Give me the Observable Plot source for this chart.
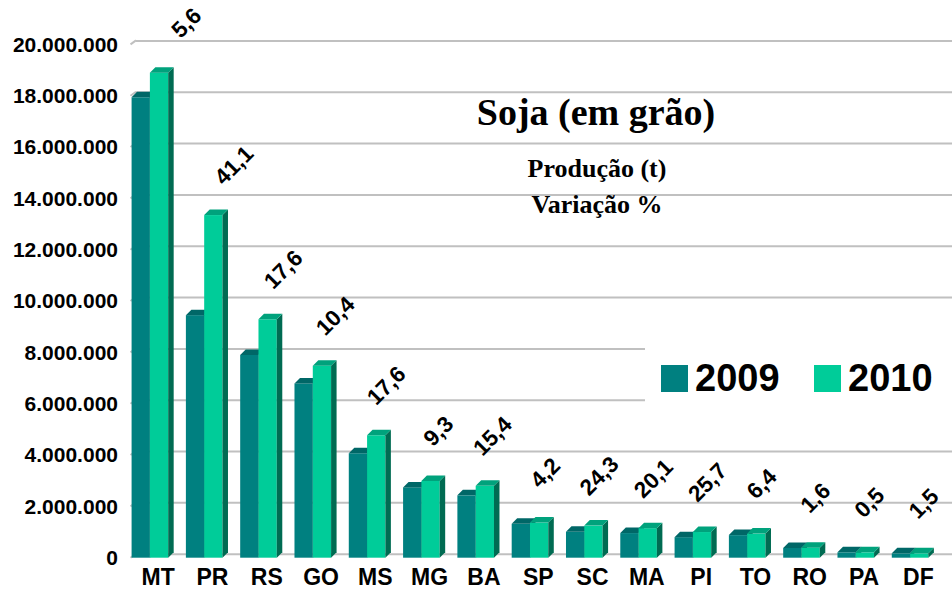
<!DOCTYPE html>
<html><head><meta charset="utf-8">
<script src="https://cdn.jsdelivr.net/npm/d3@7"></script>
<script src="https://cdn.jsdelivr.net/npm/@observablehq/plot@0.6"></script>
<style>
html,body{margin:0;padding:0;background:#fff;}
#chart svg{display:block;}
</style></head><body><div id="chart"></div>
<script>
// ---- data ----
const states = ["MT","PR","RS","GO","MS","MG","BA","SP","SC","MA","PI","TO","RO","PA","DF"];
const prod2009 = [17940000, 9450000, 7900000, 6790000, 4070000, 2740000, 2430000, 1320000, 1010000, 960000, 800000, 880000, 380000, 210000, 170000];
const prod2010 = [18900000, 13350000, 9290000, 7480000, 4770000, 2990000, 2800000, 1370000, 1250000, 1150000, 1000000, 940000, 390000, 210000, 170000];
const variation = [5.6, 41.1, 17.6, 10.4, 17.6, 9.3, 15.4, 4.2, 24.3, 20.1, 25.7, 6.4, 1.6, 0.5, 1.5];
const yTicks = [0, 2000000, 4000000, 6000000, 8000000, 10000000, 12000000, 14000000, 16000000, 18000000, 20000000];
const years = ["2009", "2010"];
const titleText = "Soja (em grão)";
const subtitle1 = "Produção (t)";
const subtitle2 = "Variação %";

// ---- styles ----
const frontColor = {"2009": "#008080", "2010": "#00CC99"};
const topColor = {"2009": "#006767", "2010": "#00A27C"};
const sideColor = {"2009": "#005252", "2010": "#006B52"};
const W0 = 0.02, BW = 0.337;      // bar offset & width inside a category band
const DX = 5.5, DY = 5.5;         // 3D depth of bars (px)
const GX = 5.5, GY = 4;           // depth of back wall (px)
const sans = "'Liberation Sans', Arial, sans-serif";
const serif = "'Liberation Serif', 'Times New Roman', serif";

const rows = states.map((s, i) => ({i, state: s, v2009: prod2009[i], v2010: prod2010[i], pct: variation[i]}));
const bars = rows.flatMap(r => [
  {i: r.i, year: "2009", slot: 0, v: r.v2009},
  {i: r.i, year: "2010", slot: 1, v: r.v2010}
]);

const loc = d3.formatLocale({decimal: ",", thousands: ".", grouping: [3], currency: ["", ""]});
const fmtY = loc.format(",d");
const fmtPct = loc.format(",.1f");

function faces(year) {
  return (index, scales) => {
    const g = d3.create("svg:g");
    for (const b of bars.filter(d => d.year === year)) {
      const x1 = scales.x(b.i + W0 + b.slot * BW), x2 = scales.x(b.i + W0 + (b.slot + 1) * BW);
      const y0 = scales.y(0), y = scales.y(b.v);
      g.append("path").attr("fill", sideColor[year])
        .attr("d", `M${x2},${y}L${x2 + DX},${y - DY}L${x2 + DX},${y0 - DY}L${x2},${y0}Z`);
      g.append("path").attr("fill", topColor[year])
        .attr("d", `M${x1},${y}L${x2},${y}L${x2 + DX},${y - DY}L${x1 + DX},${y - DY}Z`);
    }
    return g.node();
  };
}

function wall(index, scales) {
  const g = d3.create("svg:g");
  for (const t of yTicks) {
    const x = scales.x(0), y = scales.y(t);
    g.append("line").attr("x1", x).attr("y1", y).attr("x2", x + GX).attr("y2", y - GY)
      .attr("stroke", "#c0c0c0").attr("stroke-width", 2);
  }
  return g.node();
}

const frontMark = year => Plot.rect(bars.filter(d => d.year === year), {
  x1: d => d.i + W0 + d.slot * BW,
  x2: d => d.i + W0 + (d.slot + 1) * BW,
  y1: 0, y2: "v", fill: frontColor[year]
});

const chart = Plot.plot({
  width: 952, height: 597,
  marginLeft: 130.5, marginRight: 7, marginTop: 44.4, marginBottom: 39.3,
  style: {fontFamily: sans, color: "black", background: "white", overflow: "visible"},
  x: {domain: [0, states.length]},
  y: {domain: [0, 20000000]},
  marks: [
    Plot.ruleY(yTicks, {stroke: "#c0c0c0", strokeWidth: 2, dy: -GY, insetLeft: GX, insetRight: -7}),
    wall,
    frontMark("2009"),
    faces("2009"),
    frontMark("2010"),
    faces("2010"),
    Plot.text(rows, {
      x: d => d.i + 0.6 + 0.45 * d.v2010 / 20000000,
      y: "v2010", dy: -50,
      text: d => fmtPct(d.pct), rotate: -45,
      fontSize: 22.5, fontWeight: "bold", fill: "black", fontFamily: sans
    }),
    Plot.axisY({ticks: yTicks, tickFormat: fmtY, tickSize: 0, tickPadding: 13,
      fontSize: 21, fontWeight: "bold", label: null}),
    Plot.axisX({ticks: states.map((_, i) => i + 0.5), tickFormat: d => states[Math.round(d - 0.5)],
      tickSize: 0, tickPadding: 10, fontSize: 23, fontWeight: "bold", label: null})
  ]
});

const svg = d3.select(chart);
// title
svg.append("text").attr("x", 596).attr("y", 125).attr("text-anchor", "middle")
  .attr("font-family", serif).attr("font-weight", "bold").attr("font-size", 38).attr("fill", "black").text(titleText);
svg.append("text").attr("x", 597).attr("y", 176.5).attr("text-anchor", "middle")
  .attr("font-family", serif).attr("font-weight", "bold").attr("font-size", 26).attr("fill", "black").text(subtitle1);
svg.append("text").attr("x", 597).attr("y", 213).attr("text-anchor", "middle")
  .attr("font-family", serif).attr("font-weight", "bold").attr("font-size", 26).attr("fill", "black").text(subtitle2);
// legend
const lg = svg.append("g");
lg.append("rect").attr("x", 645).attr("y", 333).attr("width", 307).attr("height", 76).attr("fill", "white");
const legendX = [661, 814];
years.forEach((yr, k) => {
  lg.append("rect").attr("x", legendX[k]).attr("y", 365).attr("width", 27).attr("height", 27).attr("fill", frontColor[yr]);
  lg.append("text").attr("x", legendX[k] + 34).attr("y", 390.7).attr("text-anchor", "start")
    .attr("font-family", sans).attr("font-weight", "bold")
    .attr("font-size", 38).attr("fill", "black").text(yr);
});

document.getElementById("chart").appendChild(chart);
</script></body></html>
